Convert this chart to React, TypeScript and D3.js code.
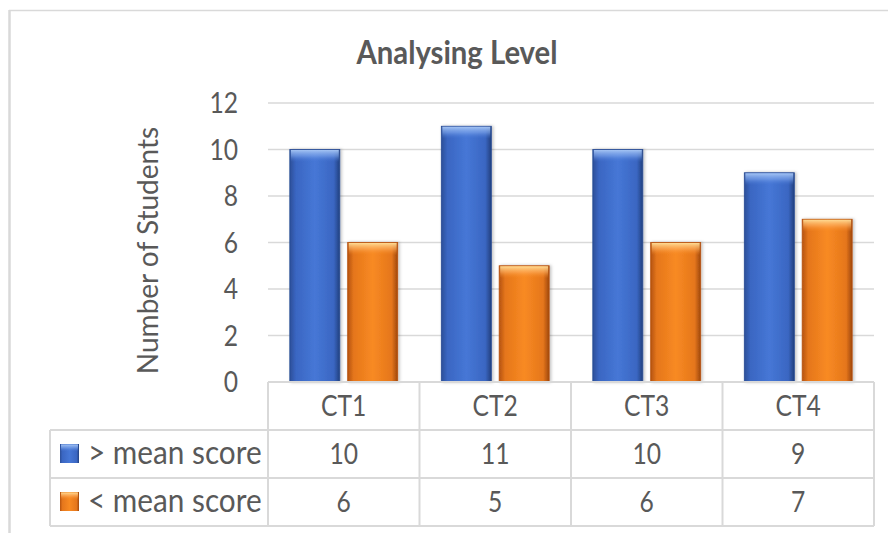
import React from "react";
import * as d3 from "d3";

const categories = ["CT1", "CT2", "CT3", "CT4"];
const seriesNames = ["> mean score", "< mean score"];
const aboveMean = [10, 11, 10, 9];
const belowMean = [6, 5, 6, 7];
const yTicks = [0, 2, 4, 6, 8, 10, 12];
const title = "Analysing Level";
const yLabel = "Number of Students";

const W = 888;
const H = 533;
const FONT = "Lato, 'Open Sans', 'Noto Sans', sans-serif";
const TXT = "#595959";
const GRID = "#D9D9D9";

type TProps = {
  x: number;
  y: number;
  size: number;
  sx?: number;
  anchor?: "start" | "middle" | "end";
  bold?: boolean;
  dy?: string;
  children: React.ReactNode;
};

function T({ x, y, size, sx = 1, anchor = "start", bold = false, dy, children }: TProps) {
  return (
    <text
      transform={`translate(${x},${y}) scale(${sx},1)`}
      textAnchor={anchor}
      dy={dy}
      fontFamily={FONT}
      fontSize={size}
      fontWeight={bold ? "bold" : "normal"}
      fill={TXT}
    >
      {children}
    </text>
  );
}

export default function App() {
  const plotLeft = 268;
  const plotRight = 874;
  const plotTop = 103;
  const plotBottom = 382;
  const rowH = 48;

  const x0 = d3.scaleBand<string>().domain(categories).range([plotLeft, plotRight]).padding(0);
  const y = d3.scaleLinear().domain([0, 12]).range([plotBottom, plotTop]);
  const bw = x0.bandwidth();
  const barW = bw * 0.33;
  const gap = bw * 0.052;
  const margin = (bw - 2 * barW - gap) / 2;

  const series = [
    { name: seriesNames[0], values: aboveMean, grad: "gBlue", top: "tBlue", edge: "#284B94" },
    { name: seriesNames[1], values: belowMean, grad: "gOrange", top: "tOrange", edge: "#B8520E" },
  ];

  const row1Top = plotBottom + rowH;
  const row2Top = row1Top + rowH;
  const tableBottom = row2Top + rowH;
  const legendLeft = 50;

  return (
    <svg width={W} height={H} style={{ position: "absolute", left: 0, top: 0 }}>
      <defs>
        <linearGradient id="gBlue" x1="0" x2="1" y1="0" y2="0">
          <stop offset="0" stopColor="#2C4F98" />
          <stop offset="0.12" stopColor="#3A66C2" />
          <stop offset="0.5" stopColor="#4677D6" />
          <stop offset="0.88" stopColor="#3A66C2" />
          <stop offset="1" stopColor="#22407E" />
        </linearGradient>
        <linearGradient id="tBlue" x1="0" x2="0" y1="0" y2="1">
          <stop offset="0" stopColor="#A9C8F5" stopOpacity="0.95" />
          <stop offset="0.5" stopColor="#7EA6EC" stopOpacity="0.6" />
          <stop offset="1" stopColor="#4677D6" stopOpacity="0" />
        </linearGradient>
        <linearGradient id="gOrange" x1="0" x2="1" y1="0" y2="0">
          <stop offset="0" stopColor="#B5530F" />
          <stop offset="0.12" stopColor="#E5761C" />
          <stop offset="0.5" stopColor="#F88A22" />
          <stop offset="0.88" stopColor="#E5761C" />
          <stop offset="1" stopColor="#9E470C" />
        </linearGradient>
        <linearGradient id="tOrange" x1="0" x2="0" y1="0" y2="1">
          <stop offset="0" stopColor="#FFE09A" stopOpacity="0.95" />
          <stop offset="0.5" stopColor="#FFB060" stopOpacity="0.6" />
          <stop offset="1" stopColor="#F88A22" stopOpacity="0" />
        </linearGradient>
        <filter id="shadow" x="-20%" y="-5%" width="140%" height="110%">
          <feDropShadow dx="1.5" dy="0" stdDeviation="1.5" floodColor="#000" floodOpacity="0.25" />
        </filter>
      </defs>

      {/* outer frame (top & left) */}
      <line x1={9} x2={W} y1={10.5} y2={10.5} stroke={GRID} strokeWidth={1.5} />
      <line x1={9.5} x2={9.5} y1={10} y2={H} stroke={GRID} strokeWidth={2.5} />

      <T x={457} y={64} size={32} sx={0.915} anchor="middle" bold>
        {title}
      </T>

      {/* gridlines */}
      {yTicks.filter((t) => t > 0).map((t) => (
        <line key={t} x1={plotLeft} x2={plotRight} y1={y(t)} y2={y(t)} stroke={GRID} strokeWidth={1.5} />
      ))}
      {yTicks.map((t) => (
        <T key={"l" + t} x={238} y={y(t)} dy="0.36em" size={28} sx={0.88} anchor="end">
          {t}
        </T>
      ))}

      <text
        transform={`translate(158,${(plotTop + plotBottom) / 2 + 8}) rotate(-90)`}
        textAnchor="middle"
        fontFamily={FONT}
        fontSize={28}
        fill={TXT}
      >
        {yLabel}
      </text>

      {/* bars */}
      {categories.map((c, i) => (
        <g key={c}>
          {series.map((s, k) => {
            const bx = (x0(c) as number) + margin + k * (barW + gap);
            const by = y(s.values[i]);
            const bh = plotBottom - by;
            return (
              <g key={s.name}>
                <rect x={bx} y={by} width={barW} height={bh} fill={`url(#${s.grad})`} filter="url(#shadow)" stroke={s.edge} strokeWidth={0.8} />
                <rect x={bx + 1} y={by + 0.5} width={barW - 2} height={Math.min(12, bh)} fill={`url(#${s.top})`} />
              </g>
            );
          })}
        </g>
      ))}

      {/* data table */}
      <g stroke={GRID} strokeWidth={2} fill="none">
        <line x1={plotLeft} x2={plotRight} y1={plotBottom} y2={plotBottom} />
        <line x1={legendLeft} x2={plotRight} y1={row1Top} y2={row1Top} />
        <line x1={legendLeft} x2={plotRight} y1={row2Top} y2={row2Top} />
        <line x1={legendLeft} x2={plotRight} y1={tableBottom} y2={tableBottom} />
        <line x1={legendLeft} x2={legendLeft} y1={row1Top} y2={tableBottom} />
        {categories.map((c) => (
          <line key={c} x1={x0(c) as number} x2={x0(c) as number} y1={plotBottom} y2={tableBottom} />
        ))}
        <line x1={plotRight} x2={plotRight} y1={plotBottom} y2={tableBottom} />
      </g>

      {categories.map((c, i) => {
        const cx = (x0(c) as number) + bw / 2;
        return (
          <g key={"t" + c}>
            <T x={cx} y={plotBottom + rowH / 2} dy="0.36em" size={28} sx={0.88} anchor="middle">{c}</T>
            <T x={cx} y={row1Top + rowH / 2} dy="0.36em" size={28} sx={0.88} anchor="middle">{aboveMean[i]}</T>
            <T x={cx} y={row2Top + rowH / 2} dy="0.36em" size={28} sx={0.88} anchor="middle">{belowMean[i]}</T>
          </g>
        );
      })}

      {series.map((s, k) => {
        const ry = row1Top + k * rowH + rowH / 2;
        return (
          <g key={"lg" + s.name}>
            <rect x={60} y={ry - 10} width={19} height={19} fill={`url(#${s.grad})`} />
            <rect x={61} y={ry - 9.5} width={17} height={7} fill={`url(#${s.top})`} />
            <T x={88} y={ry} dy="0.3em" size={32} sx={0.93}>
              {s.name}
            </T>
          </g>
        );
      })}
    </svg>
  );
}
